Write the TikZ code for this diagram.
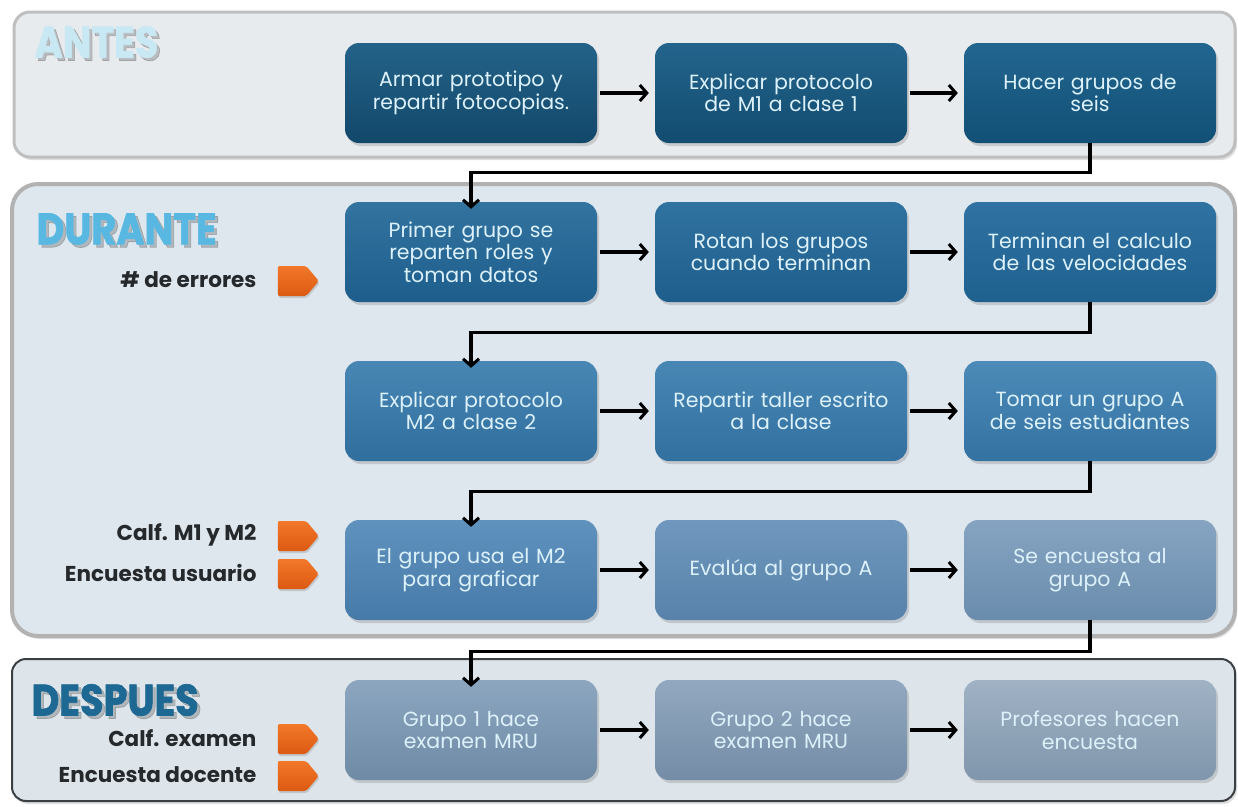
\documentclass[tikz,border=0pt]{standalone}
\usepackage{fontspec}
\setmainfont{Poppins}
\newfontfamily\headfont{Poppins}[BoldFeatures={FakeBold=1.6}]
\usetikzlibrary{shadows,shapes.symbols,arrows.meta}

\definecolor{boxtext}{HTML}{DDF1FA}
\definecolor{labeltext}{HTML}{26292C}
\definecolor{tagorange}{HTML}{F2782A}
\definecolor{tagorangedark}{HTML}{DC5A12}

\newcommand{\phasetitle}[1]{\scalebox{0.87}[1]{#1}}

\tikzset{
  panel/.style={rounded corners=16pt, line width=3pt, drop shadow={shadow xshift=2pt, shadow yshift=-3pt, opacity=0.25}},
  stepbox/.style={rounded corners=14pt, minimum width=252pt, minimum height=100pt,
    text width=244pt, align=center, text=boxtext, inner sep=0pt,
    font=\fontsize{20.5}{22.5}\selectfont,
    drop shadow={shadow xshift=2pt, shadow yshift=-3pt, opacity=0.3}},
  flow/.style={line width=3.4pt, -{Straight Barb[length=7pt,width=16pt,line width=3pt]}},
  tag/.style={signal, signal to=east, signal pointer angle=100, minimum width=41pt,
    minimum height=30pt, inner sep=0pt, rounded corners=2pt,
    top color=tagorange, bottom color=tagorangedark, draw=none,
    drop shadow={shadow xshift=1pt, shadow yshift=-2pt, opacity=0.3}},
  lbl/.style={anchor=east, text=labeltext, font=\fontsize{21.5}{24}\selectfont\bfseries},
  header/.style={anchor=west, font=\headfont\fontsize{44}{44}\selectfont\bfseries},
  hshadow/.style={header, text=black, opacity=0.2},
}

\begin{document}
\begin{tikzpicture}[x=1pt,y=-1pt]
\useasboundingbox (0,0) rectangle (1238,806);

% phase panels
\draw[panel, draw=gray!50, fill={rgb,255:red,232;green,235;blue,238}] (14,12) rectangle (1235,157);
\draw[panel, draw=gray!60, line width=4pt, rounded corners=26pt, fill={rgb,255:red,222;green,231;blue,237}] (12,184) rectangle (1235,636);
\draw[panel, draw={rgb,255:red,58;green,63;blue,68}, line width=2pt, rounded corners=14pt, fill={rgb,255:red,221;green,229;blue,234}] (12,659) rectangle (1235,801);

% phase titles with a soft shadow
\node[hshadow] (hAs) at (34,45) {\phasetitle{ANTES}};
\node[hshadow] (hDs) at (36,232) {\phasetitle{DURANTE}};
\node[hshadow] (hPs) at (31,703) {\phasetitle{DESPUES}};
\node[header, text={rgb,255:red,200;green,232;blue,244}] (hA) at (31,42) {\phasetitle{ANTES}};
\node[header, text={rgb,255:red,88;green,184;blue,226}] (hD) at (33,229) {\phasetitle{DURANTE}};
\node[header, text={rgb,255:red,30;green,104;blue,148}] (hP) at (28,700) {\phasetitle{DESPUES}};

% steps
\node[stepbox, top color={rgb,255:red,36;green,98;blue,136}, bottom color={rgb,255:red,18;green,72;blue,106}] (a1) at (471,93) {Armar prototipo y\\repartir fotocopias.};
\node[stepbox, top color={rgb,255:red,36;green,100;blue,140}, bottom color={rgb,255:red,18;green,76;blue,112}] (a2) at (781,93) {Explicar protocolo\\de M1 a clase 1};
\node[stepbox, top color={rgb,255:red,34;green,102;blue,144}, bottom color={rgb,255:red,18;green,80;blue,118}] (a3) at (1090,93) {Hacer grupos de\\seis};

\node[stepbox, top color={rgb,255:red,50;green,115;blue,160}, bottom color={rgb,255:red,30;green,94;blue,140}] (b1) at (471,252) {Primer grupo se\\reparten roles y\\toman datos};
\node[stepbox, top color={rgb,255:red,48;green,114;blue,160}, bottom color={rgb,255:red,30;green,94;blue,140}] (b2) at (781,252) {Rotan los grupos\\cuando terminan};
\node[stepbox, top color={rgb,255:red,48;green,114;blue,162}, bottom color={rgb,255:red,30;green,96;blue,142}] (b3) at (1090,252) {Terminan el calculo\\de las velocidades};

\node[stepbox, top color={rgb,255:red,72;green,134;blue,180}, bottom color={rgb,255:red,48;green,110;blue,158}] (c1) at (471,411) {Explicar protocolo\\M2 a clase 2};
\node[stepbox, top color={rgb,255:red,72;green,134;blue,180}, bottom color={rgb,255:red,50;green,112;blue,160}] (c2) at (781,411) {Repartir taller escrito\\a la clase};
\node[stepbox, top color={rgb,255:red,76;green,138;blue,184}, bottom color={rgb,255:red,52;green,114;blue,162}] (c3) at (1090,411) {Tomar un grupo A\\de seis estudiantes};

\node[stepbox, top color={rgb,255:red,96;green,146;blue,190}, bottom color={rgb,255:red,70;green,122;blue,168}] (d1) at (471,570) {El grupo usa el M2\\para graficar};
\node[stepbox, top color={rgb,255:red,112;green,152;blue,190}, bottom color={rgb,255:red,88;green,130;blue,170}] (d2) at (781,570) {Evalúa al grupo A};
\node[stepbox, top color={rgb,255:red,134;green,164;blue,194}, bottom color={rgb,255:red,106;green,140;blue,172}] (d3) at (1090,570) {Se encuesta al\\grupo A};

\node[stepbox, top color={rgb,255:red,140;green,166;blue,192}, bottom color={rgb,255:red,110;green,138;blue,164}] (e1) at (471,730) {Grupo 1 hace\\examen MRU};
\node[stepbox, top color={rgb,255:red,146;green,168;blue,192}, bottom color={rgb,255:red,116;green,140;blue,166}] (e2) at (781,730) {Grupo 2 hace\\examen MRU};
\node[stepbox, top color={rgb,255:red,160;green,178;blue,196}, bottom color={rgb,255:red,128;green,150;blue,172}] (e3) at (1090,730) {Profesores hacen\\encuesta};

% flow along each row
\foreach \r in {a,b,c,d,e}{
  \draw[flow] (\r1.east) ++(3,0) -- ([xshift=-6pt]\r2.west);
  \draw[flow] (\r2.east) ++(3,0) -- ([xshift=-6pt]\r3.west);
}

% flow from the end of one row to the start of the next
\draw[flow] (a3.south) -- ++(0,29) -| ([yshift=-7pt]b1.north);
\draw[flow] (b3.south) -- ++(0,30) -| ([yshift=-7pt]c1.north);
\draw[flow] (c3.south) -- ++(0,30) -| ([yshift=-7pt]d1.north);
\draw[flow] (d3.south) -- ++(0,31) -| ([yshift=-7pt]e1.north);

% measured indicators
\node[tag] (t1) at (292,281) {};
\node[lbl] (l1) at (260,280) {\# de errores};
\node[tag] (t2) at (292,536) {};
\node[lbl] (l2) at (260,535) {Calf. M1 y M2};
\node[tag] (t3) at (292,574) {};
\node[lbl] (l3) at (260,573) {Encuesta usuario};
\node[tag] (t4) at (292,739) {};
\node[lbl] (l4) at (260,738) {Calf. examen};
\node[tag] (t5) at (292,776) {};
\node[lbl] (l5) at (260,775) {Encuesta docente};
\end{tikzpicture}
\end{document}
